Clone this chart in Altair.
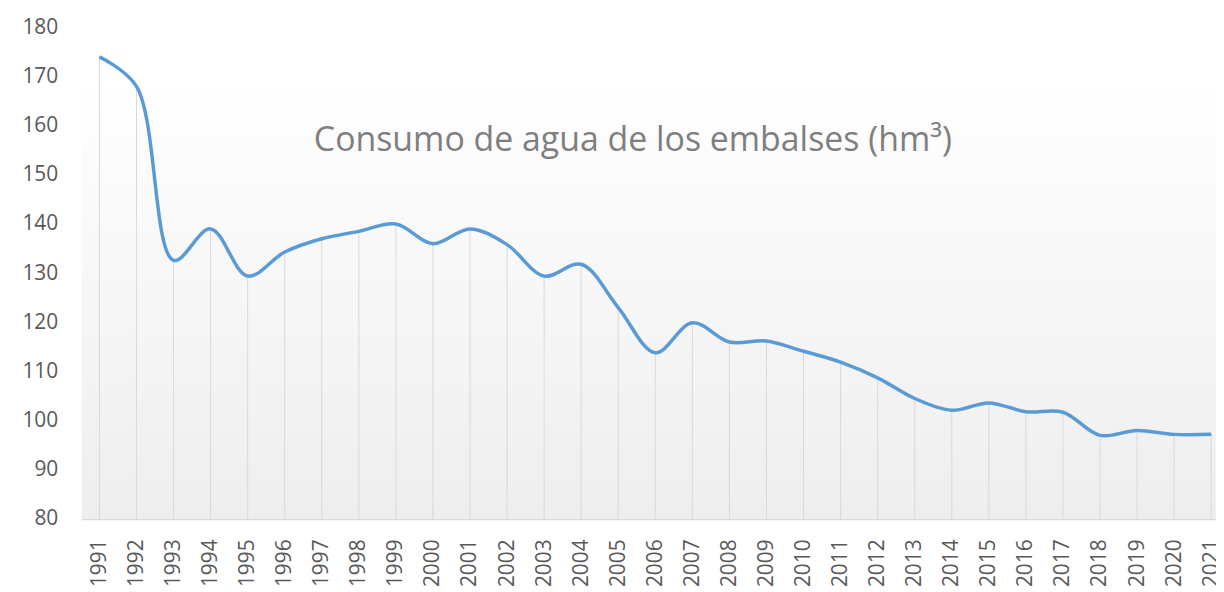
import altair as alt
import pandas as pd

years = list(range(1991, 2022))
values = [174.0, 168.0, 132.6, 139.0, 129.4, 134.3, 137.0, 138.5, 140.0, 136.0,
          139.0, 135.8, 129.4, 131.8, 123.0, 113.8, 119.9, 116.0, 116.2, 114.1,
          111.9, 108.7, 104.5, 102.1, 103.6, 101.8, 101.7, 97.0, 98.0, 97.2, 97.2]
y_ticks = list(range(80, 181, 10))
title_text = "Consumo de agua de los embalses (hm³)"

df = pd.DataFrame({"year": years, "value": values})

W, H = 1140, 494
FONT = "Open Sans"
GRAY = "#595959"

xscale = alt.Scale(domain=[1990.52, 2021.13], nice=False, zero=False)
yscale = alt.Scale(domain=[80, 180], nice=False, zero=False)

xaxis = alt.Axis(values=years, format="d", labelAngle=270, labelFontSize=21,
                 labelColor=GRAY, labelFont=FONT, ticks=False, grid=False,
                 domainColor="#d9d9d9", domainWidth=1.5, labelPadding=20,
                 labelOverlap=False, labelFlush=False, labelBound=False, title=None)
yaxis = alt.Axis(values=y_ticks, labelFontSize=21, labelColor=GRAY,
                 labelFont=FONT, ticks=False, grid=False, domain=False,
                 labelPadding=24, labelOverlap=False, title=None)

bg = alt.Chart(alt.Data(values=[{"a": 1}])).mark_rect(
    color=alt.Gradient(
        gradient="linear",
        stops=[alt.GradientStop(color="#ffffff", offset=0),
               alt.GradientStop(color="#ffffff", offset=0.1),
               alt.GradientStop(color="#eeeeee", offset=1)],
        x1=0, x2=0, y1=0, y2=1,
    )
).encode(x=alt.value(0), x2=alt.value(W), y=alt.value(0), y2=alt.value(H))

base = alt.Chart(df)

rules = base.mark_rule(color="#d9d9d9", strokeWidth=1).encode(
    x=alt.X("year:Q", scale=xscale, axis=xaxis),
    y=alt.Y("value:Q", scale=yscale, axis=yaxis),
    y2=alt.datum(80),
)

line = base.mark_line(interpolate="catmull-rom", color="#5b9bd5", strokeWidth=3.5).encode(
    x=alt.X("year:Q", scale=xscale, axis=xaxis),
    y=alt.Y("value:Q", scale=yscale, axis=yaxis),
)

title = alt.Chart(alt.Data(values=[{"t": title_text}])).mark_text(
    font=FONT, fontSize=34, color="#7f7f7f", align="center", baseline="middle"
).encode(x=alt.value(554), y=alt.value(114), text="t:N")

chart = alt.layer(bg, rules, line, title).properties(
    width=W, height=H,
    autosize=alt.AutoSizeParams(type="none"),
    padding={"left": 74, "top": 18, "right": 0, "bottom": 72},
).configure_view(strokeWidth=0).configure_axisX(labelOverlap=False)

chart.save("out.html", embed_options={"renderer": "svg", "actions": False})
